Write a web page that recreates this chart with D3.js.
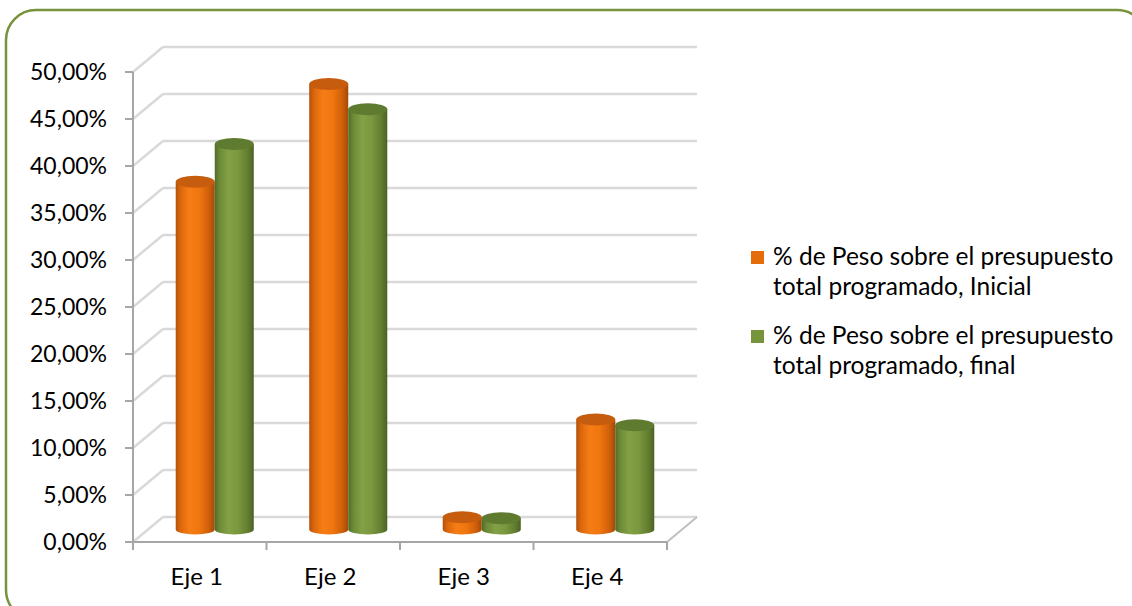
<!DOCTYPE html>
<html>
<head>
<meta charset="utf-8">
<script src="https://cdn.jsdelivr.net/npm/d3@7"></script>
<style>
  html, body { margin: 0; padding: 0; background: #fff; }
  svg { display: block; font-family: Lato, "Liberation Sans", sans-serif; }
</style>
</head>
<body>
<svg id="chart" width="1132" height="606"></svg>
<script>
// Data
var categories = ["Eje 1", "Eje 2", "Eje 3", "Eje 4"];
var seriesNames = [
    ["% de Peso sobre el presupuesto", "total programado, Inicial"],
    ["% de Peso sobre el presupuesto", "total programado, final"]
];
var inicial = [0.370, 0.474, 0.013, 0.117];
var final = [0.410, 0.447, 0.012, 0.111];
var yTicks = [0, 0.05, 0.10, 0.15, 0.20, 0.25, 0.30, 0.35, 0.40, 0.45, 0.50];

var depthX = 30;   // back wall offset
var depthY = -25;

var svg = d3.select("#chart");

// green rounded frame (runs off the right and bottom edge)
svg.append("rect")
    .attr("x", 6).attr("y", 10)
    .attr("width", 1141).attr("height", 610)
    .attr("rx", 30).attr("ry", 30)
    .attr("fill", "none")
    .attr("stroke", "#77933c")
    .attr("stroke-width", 2.5);

var x = d3.scaleBand().domain(categories).range([133, 667]);
var xs = d3.scaleBand().domain([0, 1]).range([0, x.bandwidth()]).paddingOuter(0.71);
var y = d3.scaleLinear().domain([0, 0.5]).range([542, 72]);

var fmt = function (d) { return d3.format(".2f")(d * 100).replace(".", ",") + "%"; };

// gradients for cylinders
var defs = svg.append("defs");
function addGrad(id, stops) {
    var lg = defs.append("linearGradient").attr("id", id)
        .attr("x1", 0).attr("x2", 1).attr("y1", 0).attr("y2", 0);
    stops.forEach(function (s) {
        lg.append("stop").attr("offset", s[0]).attr("stop-color", s[1]);
    });
}
addGrad("gOrange", [[0, "#b0520a"], [0.12, "#dc660c"], [0.35, "#f67d16"], [0.6, "#f0760f"], [0.85, "#cf5f0a"], [1, "#a24a07"]]);
addGrad("gGreen", [[0, "#506a27"], [0.12, "#6c8936"], [0.35, "#83a146"], [0.6, "#7b973f"], [0.85, "#627d2f"], [1, "#4a6223"]]);
var bodyFill = ["url(#gOrange)", "url(#gGreen)"];
var topFill = ["#c65d0e", "#5f7b2f"];
var legendFill = ["#e46c0a", "#77933c"];

var grid = svg.append("g");

// back wall gridlines
grid.selectAll("line.back").data(yTicks).enter().append("line")
    .attr("class", "back")
    .attr("x1", x.range()[0] + depthX).attr("x2", x.range()[1] + depthX)
    .attr("y1", function (d) { return y(d) + depthY; })
    .attr("y2", function (d) { return y(d) + depthY; })
    .attr("stroke", "#d9d9d9").attr("stroke-width", 2.5);

// side wall gridlines
grid.selectAll("line.side").data(yTicks).enter().append("line")
    .attr("class", "side")
    .attr("x1", x.range()[0]).attr("x2", x.range()[0] + depthX)
    .attr("y1", function (d) { return y(d); })
    .attr("y2", function (d) { return y(d) + depthY; })
    .attr("stroke", "#d9d9d9").attr("stroke-width", 2.5);

// floor right edge
grid.append("line")
    .attr("x1", x.range()[1]).attr("y1", y(0))
    .attr("x2", x.range()[1] + depthX).attr("y2", y(0) + depthY)
    .attr("stroke", "#bfbfbf").attr("stroke-width", 2);

// y axis
var yAxis = svg.append("g");
yAxis.append("line")
    .attr("x1", 133).attr("x2", 133).attr("y1", y(0.5)).attr("y2", y(0))
    .attr("stroke", "#a6a6a6").attr("stroke-width", 2);
yAxis.selectAll("line.tick").data(yTicks).enter().append("line")
    .attr("x1", 125).attr("x2", 133)
    .attr("y1", function (d) { return y(d); }).attr("y2", function (d) { return y(d); })
    .attr("stroke", "#a6a6a6").attr("stroke-width", 2);
yAxis.selectAll("text").data(yTicks).enter().append("text")
    .attr("x", 107).attr("y", function (d) { return y(d); })
    .attr("dy", "0.35em")
    .attr("text-anchor", "end")
    .attr("font-size", 23).attr("fill", "#000")
    .text(fmt);

// x axis
var xAxis = svg.append("g");
xAxis.append("line")
    .attr("x1", x.range()[0]).attr("x2", x.range()[1]).attr("y1", y(0)).attr("y2", y(0))
    .attr("stroke", "#a6a6a6").attr("stroke-width", 2);
xAxis.selectAll("line.tick").data(categories.concat(["end"])).enter().append("line")
    .attr("x1", function (d, i) { return x.range()[0] + i * x.step(); })
    .attr("x2", function (d, i) { return x.range()[0] + i * x.step(); })
    .attr("y1", y(0)).attr("y2", y(0) + 8)
    .attr("stroke", "#a6a6a6").attr("stroke-width", 2);
xAxis.selectAll("text").data(categories).enter().append("text")
    .attr("x", function (d) { return x(d) + x.bandwidth() / 2 - 3; })
    .attr("y", 585)
    .attr("text-anchor", "middle")
    .attr("font-size", 24).attr("fill", "#000")
    .text(function (d) { return d; });

// cylinders, placed at half depth
var bars = [];
categories.forEach(function (c, i) {
    [inicial[i], final[i]].forEach(function (v, s) {
        bars.push({ cat: c, s: s, v: v });
    });
});

var rx = xs.bandwidth() / 2;
var ryTop = 6;
var ryBot = 5;
function cx(d) { return x(d.cat) + xs(d.s) + xs.bandwidth() / 2 + depthX / 2; }
function yTop(d) { return y(d.v) + depthY / 2; }
var yBase = y(0) + depthY / 2;

var cyl = svg.append("g").selectAll("g").data(bars).enter().append("g");
cyl.append("path")
    .attr("d", function (d) {
        var c = cx(d), t = yTop(d);
        return "M" + (c - rx) + "," + t +
            "L" + (c - rx) + "," + yBase +
            "A" + rx + "," + ryBot + " 0 0 0 " + (c + rx) + "," + yBase +
            "L" + (c + rx) + "," + t + "Z";
    })
    .attr("fill", function (d) { return bodyFill[d.s]; });
cyl.append("ellipse")
    .attr("cx", cx).attr("cy", yTop)
    .attr("rx", rx).attr("ry", ryTop)
    .attr("fill", function (d) { return topFill[d.s]; });

// legend
var legend = svg.append("g").selectAll("g").data(seriesNames).enter().append("g")
    .attr("transform", function (d, i) { return "translate(751," + (265 + i * 79) + ")"; });
legend.append("rect")
    .attr("x", 0).attr("y", -14).attr("width", 13).attr("height", 13)
    .attr("fill", function (d, i) { return legendFill[i]; });
legend.append("text")
    .attr("font-size", 24.5).attr("fill", "#000")
    .selectAll("tspan").data(function (d) { return d; }).enter().append("tspan")
    .attr("x", 22).attr("y", function (d, j) { return j * 30; })
    .text(function (d) { return d; });
</script>
</body>
</html>
